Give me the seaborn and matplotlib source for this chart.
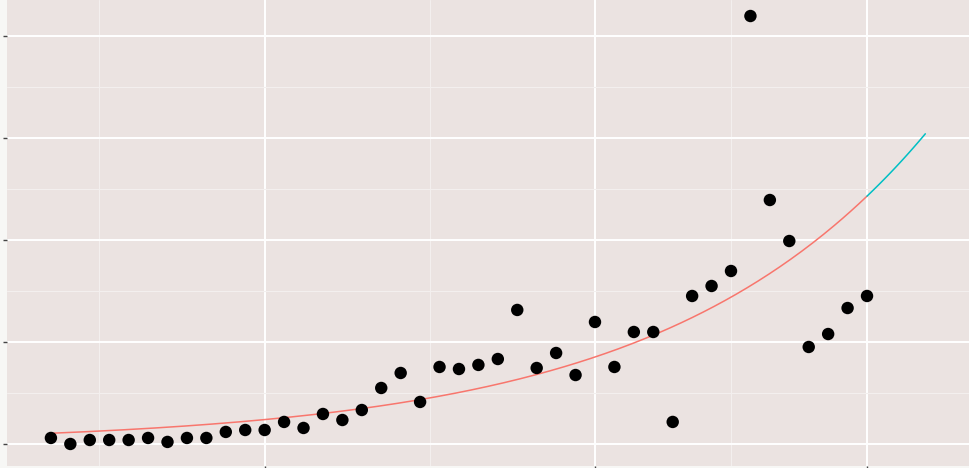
import numpy as np
import pandas as pd
import matplotlib
matplotlib.use("Agg")
import matplotlib.pyplot as plt
import seaborn as sns

# ---- data ----
x_index = list(range(43))
y_values = [5.9, 0.0, 3.9, 3.9, 3.9, 5.9, 2.0, 5.9, 5.9, 11.8,
            13.7, 13.7, 21.6, 15.7, 29.4, 23.5, 33.3, 54.9, 69.6, 41.2,
            75.5, 73.5, 77.5, 83.3, 131.4, 74.5, 89.2, 67.6, 119.6, 75.5,
            109.8, 109.8, 21.6, 145.1, 154.9, 169.6, 419.6, 239.2, 199.0, 95.1,
            107.8, 133.3, 145.1]
# exponential trend y = a * exp(b * x), parameters
trend_a = 10.5
trend_b = 0.0748
fit_end = 42
forecast_end = 45
x_major = [11, 28, 42]
x_minor = [2.5, 19.5, 35]
y_major = [0, 100, 200, 300, 400]
y_minor = [50, 150, 250, 350]

df = pd.DataFrame({"x": x_index, "y": y_values})

fit_x = np.linspace(0, fit_end, 300)
fc_x = np.linspace(fit_end, forecast_end, 60)
fit_df = pd.DataFrame({"x": fit_x, "y": trend_a * np.exp(trend_b * fit_x)})
fc_df = pd.DataFrame({"x": fc_x, "y": trend_a * np.exp(trend_b * fc_x)})

sns.set_theme(style="darkgrid")
fig = plt.figure(figsize=(9.70, 4.68), dpi=100, facecolor="#F7F7F5")
ax = fig.add_axes([7 / 970, 2 / 468, 1 - 7 / 970, 1 - 2 / 468])
ax.set_facecolor("#EBE3E1")

sns.lineplot(data=fit_df, x="x", y="y", ax=ax, color="#F8766D", linewidth=1.1)
sns.lineplot(data=fc_df, x="x", y="y", ax=ax, color="#00BFC4", linewidth=1.1)
sns.scatterplot(data=df, x="x", y="y", ax=ax, color="black", s=80,
                edgecolor="none", zorder=5)

ax.set_xlim(-2.26, 47.3)
ax.set_ylim(-21.6, 435.3)
ax.set_xticks(x_major)
ax.set_xticks(x_minor, minor=True)
ax.set_yticks(y_major)
ax.set_yticks(y_minor, minor=True)
ax.grid(which="major", color="white", linewidth=1.4)
ax.grid(which="minor", color="#F3EFEE", linewidth=0.8)
ax.set_axisbelow(True)
ax.tick_params(which="major", length=3, width=1, color="#444444",
               labelleft=False, labelbottom=False, left=True, bottom=True)
ax.tick_params(which="minor", length=0)
ax.set_xlabel("")
ax.set_ylabel("")
for s in ax.spines.values():
    s.set_visible(False)

fig.savefig("out.png", dpi=100, facecolor=fig.get_facecolor())
